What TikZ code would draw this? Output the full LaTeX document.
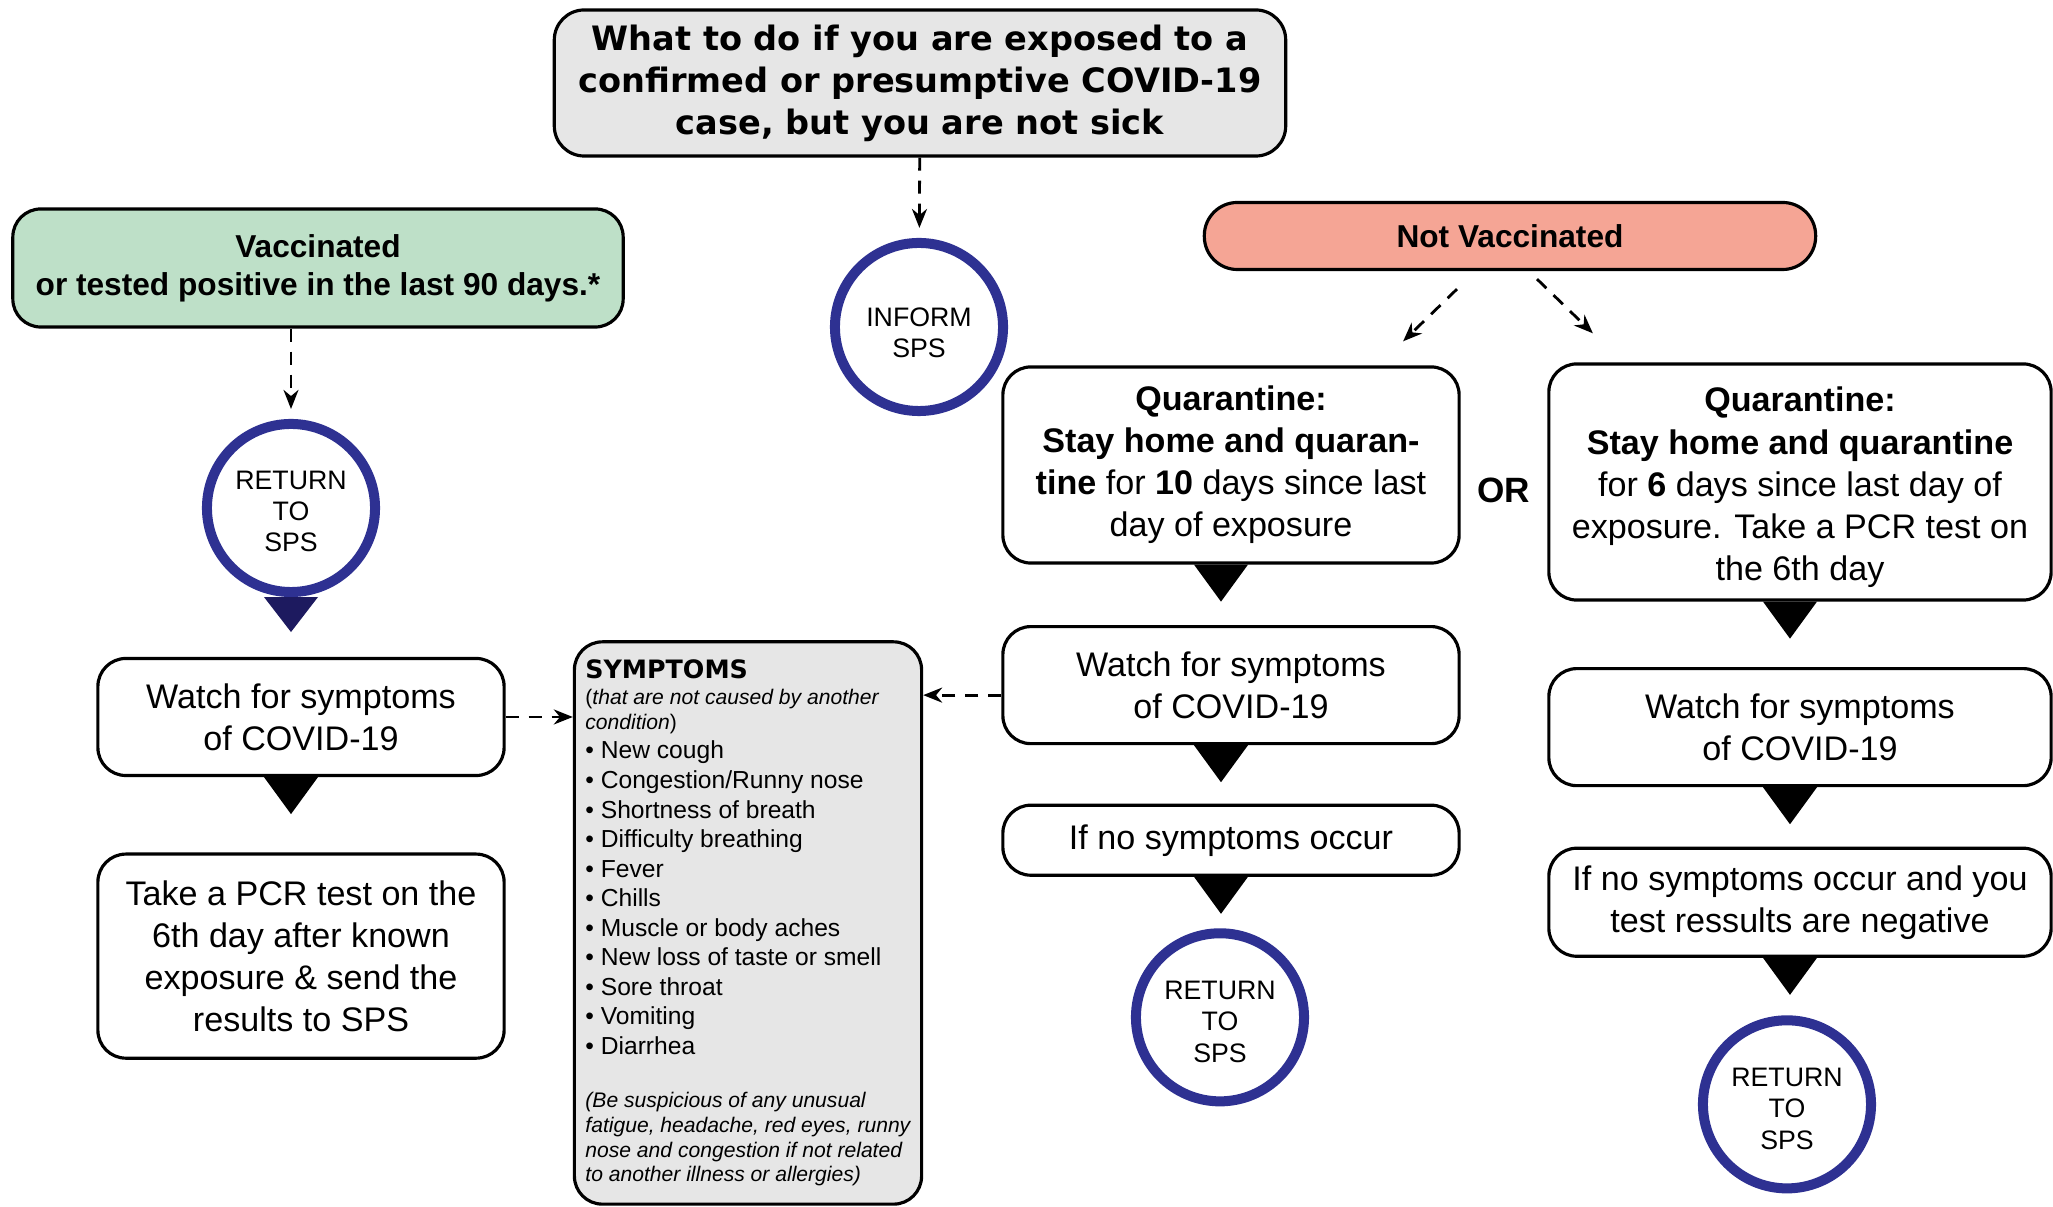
\documentclass[tikz,border=0pt]{standalone}
\usepackage{fontspec}
\setmainfont{Liberation Sans}
\newfontfamily\heavyfont{DejaVu Sans}
\usetikzlibrary{positioning,arrows.meta}

\definecolor{paleGray}{HTML}{E6E6E6}
\definecolor{vaccGreen}{HTML}{BEE0C8}
\definecolor{noVaccRed}{HTML}{F5A595}
\definecolor{ringBlue}{HTML}{2E3192}
\definecolor{pinBlue}{HTML}{1D1A5F}

\newcommand{\bodysize}{\fontsize{9.7}{11.95}\selectfont}
\newcommand{\labelsize}{\bfseries\fontsize{9}{10.8}\selectfont}
\newcommand{\titlesize}{\heavyfont\bfseries\fontsize{9.55}{11.95}\selectfont}
\newcommand{\ringsize}{\fontsize{7.6}{8.9}\selectfont}
\newcommand{\listsize}[2]{\fontsize{#1}{#2}\selectfont\spaceskip=0pt\xspaceskip=0pt}
% black drop below a box
\newcommand{\pointer}[1]{\fill ([xshift=-0.1cm]#1.south) ++(-27,0) -- ++(54,0) -- ++(-27,37) -- cycle;}

\begin{document}
\begin{tikzpicture}[x=0.01cm, y=-0.01cm, on grid,
box/.style ={draw, line width=0.9pt, rounded corners=0.28cm, fill=white,
align=center, inner sep=0pt, font=\bodysize},
ring/.style ={circle, draw=ringBlue, line width=0.1cm, fill=white,
minimum size=1.68cm, inner sep=0pt, align=center, font=\ringsize},
flow/.style ={-{Stealth[length=0.19cm,width=0.15cm]}, line width=0.8pt,
dash pattern=on 0.13cm off 0.1cm}]
\useasboundingbox (0,0) rectangle (2053,1207);

% top and branches
\node[box, fill=paleGray, rounded corners=0.3cm, minimum width=7.31cm, minimum height=1.46cm, font=\titlesize] (Question) at (920,83)
{What to do if you are exposed to a\\confirmed or presumptive COVID-19\\case, but you are not sick};
\node[ring] (Inform) at (919,327) {\rule{0pt}{8.6pt}INFORM\\SPS};
\node[box, fill=vaccGreen, minimum width=6.10cm, minimum height=1.18cm, font=\labelsize] (Vaccinated) at (318,268)
{Vaccinated\\or tested positive in the last 90 days.*};
\node[box, fill=noVaccRed, rounded corners=0.33cm, minimum width=6.11cm, minimum height=0.67cm, font=\labelsize] (NotVaccinated) at (1510,236) {Not Vaccinated};

% vaccinated column
\node[ring] (ReturnLeft) at (291,508) {\rule{0pt}{7.2pt}RETURN\\TO\\SPS};
\node[box, minimum width=4.06cm, minimum height=1.17cm] (WatchLeft) at (301,717) {Watch for symptoms\\of COVID-19};
\node[box, minimum width=4.06cm, minimum height=2.04cm] (TestLeft) [below=2.39cm of WatchLeft]
{Take a PCR test on the\\6th day after known\\exposure \& send the\\results to SPS};

% symptoms list
\node[box, fill=paleGray, minimum width=3.47cm, minimum height=5.62cm, text width=3.25cm, align=left] (Symptoms) at (748,923) {%
{\heavyfont\bfseries\listsize{7.2}{8}SYMPTOMS\par}
{\listsize{6}{7.2}(\textit{that are not caused by another}\\\textit{condition})\par}
{\listsize{7}{8.4}
\textbullet\ New cough\\
\textbullet\ Congestion/Runny nose\\
\textbullet\ Shortness of breath\\
\textbullet\ Difficulty breathing\\
\textbullet\ Fever\\
\textbullet\ Chills\\
\textbullet\ Muscle or body aches\\
\textbullet\ New loss of taste or smell\\
\textbullet\ Sore throat\\
\textbullet\ Vomiting\\
\textbullet\ Diarrhea\par}
\vspace{8.2pt}
{\listsize{6}{7}\itshape (Be suspicious of any unusual\\fatigue, headache, red eyes, runny\\nose and congestion if not related\\to another illness or allergies)\par}
\vspace{3.5pt}};

% not vaccinated, 10 days
\node[box, minimum width=4.56cm, minimum height=1.96cm] (QuarantineTen) at (1231,465)
{\textbf{Quarantine:}\\\textbf{Stay home and quaran-}\\\textbf{tine} for \textbf{10} days since last\\day of exposure};
\node[box, minimum width=4.56cm, minimum height=1.17cm] (WatchMid) [below=2.20cm of QuarantineTen] {Watch for symptoms\\of COVID-19};
\node[box, minimum width=4.56cm, minimum height=0.70cm] (NoSymptomsMid) [below=1.55cm of WatchMid] {If no symptoms occur};
\node[ring] (ReturnMid) [below left=1.77cm and 0.11cm of NoSymptomsMid] {\rule{0pt}{7.8pt}RETURN\\TO\\SPS};

\node[font=\bfseries\fontsize{10}{12}\selectfont] (Or) at (1504,490) {OR};

% not vaccinated, 6 days
\node[box, minimum width=5.02cm, minimum height=2.36cm] (QuarantineSix) at (1800,482)
{\rule{0pt}{10pt}\textbf{Quarantine:}\\\textbf{Stay home and quarantine}\\for \textbf{6} days since last day of\\exposure. Take a PCR test on\\the 6th day};
\node[box, minimum width=5.02cm, minimum height=1.17cm] (WatchRight) [below=2.45cm of QuarantineSix] {Watch for symptoms\\of COVID-19};
\node[box, minimum width=5.02cm, minimum height=1.08cm] (NoSymptomsRight) [below=1.75cm of WatchRight]
{If no symptoms occur and you\\test ressults are negative};
\node[ring] (ReturnRight) [below left=2.02cm and 0.13cm of NoSymptomsRight] {\rule{0pt}{7.8pt}RETURN\\TO\\SPS};

% dashed arrows
\draw[flow, shorten >=0.1cm] (Question) -- (Inform);
\draw[flow, shorten >=0.1cm] (Vaccinated.south -| ReturnLeft.north) -- (ReturnLeft.north);
\draw[flow] ([xshift=-0.53cm,yshift=-0.18cm]NotVaccinated.south) -- ([xshift=1.72cm,yshift=0.24cm]QuarantineTen.north);
\draw[flow] ([xshift=0.27cm,yshift=-0.08cm]NotVaccinated.south) -- ([xshift=-2.07cm,yshift=0.29cm]QuarantineSix.north);
\draw[flow] (WatchLeft.east) -- (WatchLeft.east -| Symptoms.west);
\draw[flow] ([yshift=-0.1cm]WatchMid.west) -- ([yshift=-0.1cm]WatchMid.west -| Symptoms.east);

% drops
\fill[pinBlue] (ReturnLeft.south) ++(-27,0) -- ++(54,0) -- ++(-27,35) -- cycle;
\pointer{WatchLeft}
\pointer{QuarantineTen}
\pointer{WatchMid}
\pointer{NoSymptomsMid}
\pointer{QuarantineSix}
\pointer{WatchRight}
\pointer{NoSymptomsRight}
\end{tikzpicture}
\end{document}
